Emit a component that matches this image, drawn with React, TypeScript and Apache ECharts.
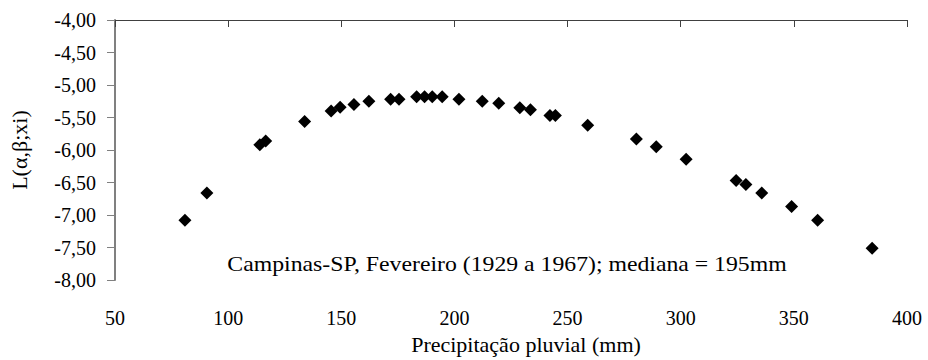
import React, { useEffect, useRef } from "react";
import * as echarts from "echarts";

const precipitation = [
  80.9, 90.6, 114.0, 116.6, 133.8, 145.5, 149.5, 155.6, 162.2, 171.8, 175.5,
  183.3, 186.8, 190.2, 194.6, 202.0, 212.3, 219.6, 228.9, 233.6, 242.2, 244.6,
  258.9, 280.4, 289.2, 302.4, 324.5, 328.8, 335.8, 349.0, 360.5, 384.6,
];
const likelihood = [
  -7.08, -6.66, -5.92, -5.86, -5.56, -5.4, -5.34, -5.3, -5.25, -5.22, -5.22,
  -5.18, -5.18, -5.18, -5.18, -5.22, -5.25, -5.28, -5.35, -5.38, -5.47, -5.47,
  -5.62, -5.83, -5.95, -6.14, -6.47, -6.53, -6.66, -6.87, -7.08, -7.51,
];
const xTitle = "Precipitação pluvial (mm)";
const yTitle = "L(α,β;xi)";
const note = "Campinas-SP, Fevereiro (1929 a 1967); mediana = 195mm";

const FONT = "'Times New Roman', 'Liberation Serif', serif";

export default function App() {
  const ref = useRef<HTMLDivElement>(null);
  useEffect(() => {
    if (!ref.current) return;
    const chart = echarts.init(ref.current, null, { renderer: "svg" });
    const data = precipitation.map((x, i) => [x, likelihood[i]]);
    chart.setOption({
      animation: false,
      textStyle: { fontFamily: FONT },
      grid: { left: 114, right: 21, top: 20, bottom: 78, containLabel: false },
      xAxis: [
        {
          type: "value",
          position: "bottom",
          min: 50,
          max: 400,
          interval: 50,
          axisLine: { show: false },
          axisTick: { show: false },
          splitLine: { show: false },
          axisLabel: { color: "#000", fontSize: 20, fontFamily: FONT, margin: 28 },
          name: xTitle,
          nameLocation: "middle",
          nameGap: 49,
          nameTextStyle: { color: "#000", fontSize: 22, fontFamily: FONT, padding: [0, 0, 0, 30] },
        },
        {
          type: "value",
          position: "top",
          min: 50,
          max: 400,
          interval: 50,
          axisLine: { show: true, lineStyle: { color: "#404040", width: 1 } },
          axisTick: { show: true, inside: true, length: 7, lineStyle: { color: "#404040" } },
          axisLabel: { show: false },
          splitLine: { show: false },
        },
      ],
      yAxis: {
        type: "value",
        min: -8,
        max: -4,
        interval: 0.5,
        axisLine: { show: true, lineStyle: { color: "#808080", width: 2 } },
        axisTick: { show: true, inside: false, length: 8, lineStyle: { color: "#808080", width: 1 } },
        splitLine: { show: false },
        axisLabel: {
          color: "#000",
          fontSize: 20,
          fontFamily: FONT,
          margin: 19,
          formatter: (v: number) => v.toFixed(2).replace(".", ","),
        },
        name: yTitle,
        nameLocation: "middle",
        nameGap: 85,
        nameTextStyle: { color: "#000", fontSize: 22, fontFamily: FONT },
      },
      graphic: [
        {
          type: "text",
          x: 507,
          y: 264,
          scaleX: 1.08,
          style: {
            text: note,
            textAlign: "center",
            textVerticalAlign: "middle",
            fontSize: 22,
            fontFamily: FONT,
            fill: "#000",
          },
        },
      ],
      series: [
        {
          type: "scatter",
          xAxisIndex: 0,
          data,
          symbol: "diamond",
          symbolSize: 13,
          itemStyle: { color: "#000", opacity: 1 },
        },
      ],
    });
    return () => chart.dispose();
  }, []);
  return (
    <div
      ref={ref}
      style={{ position: "absolute", left: 0, top: 0, width: 928, height: 360 }}
    />
  );
}
